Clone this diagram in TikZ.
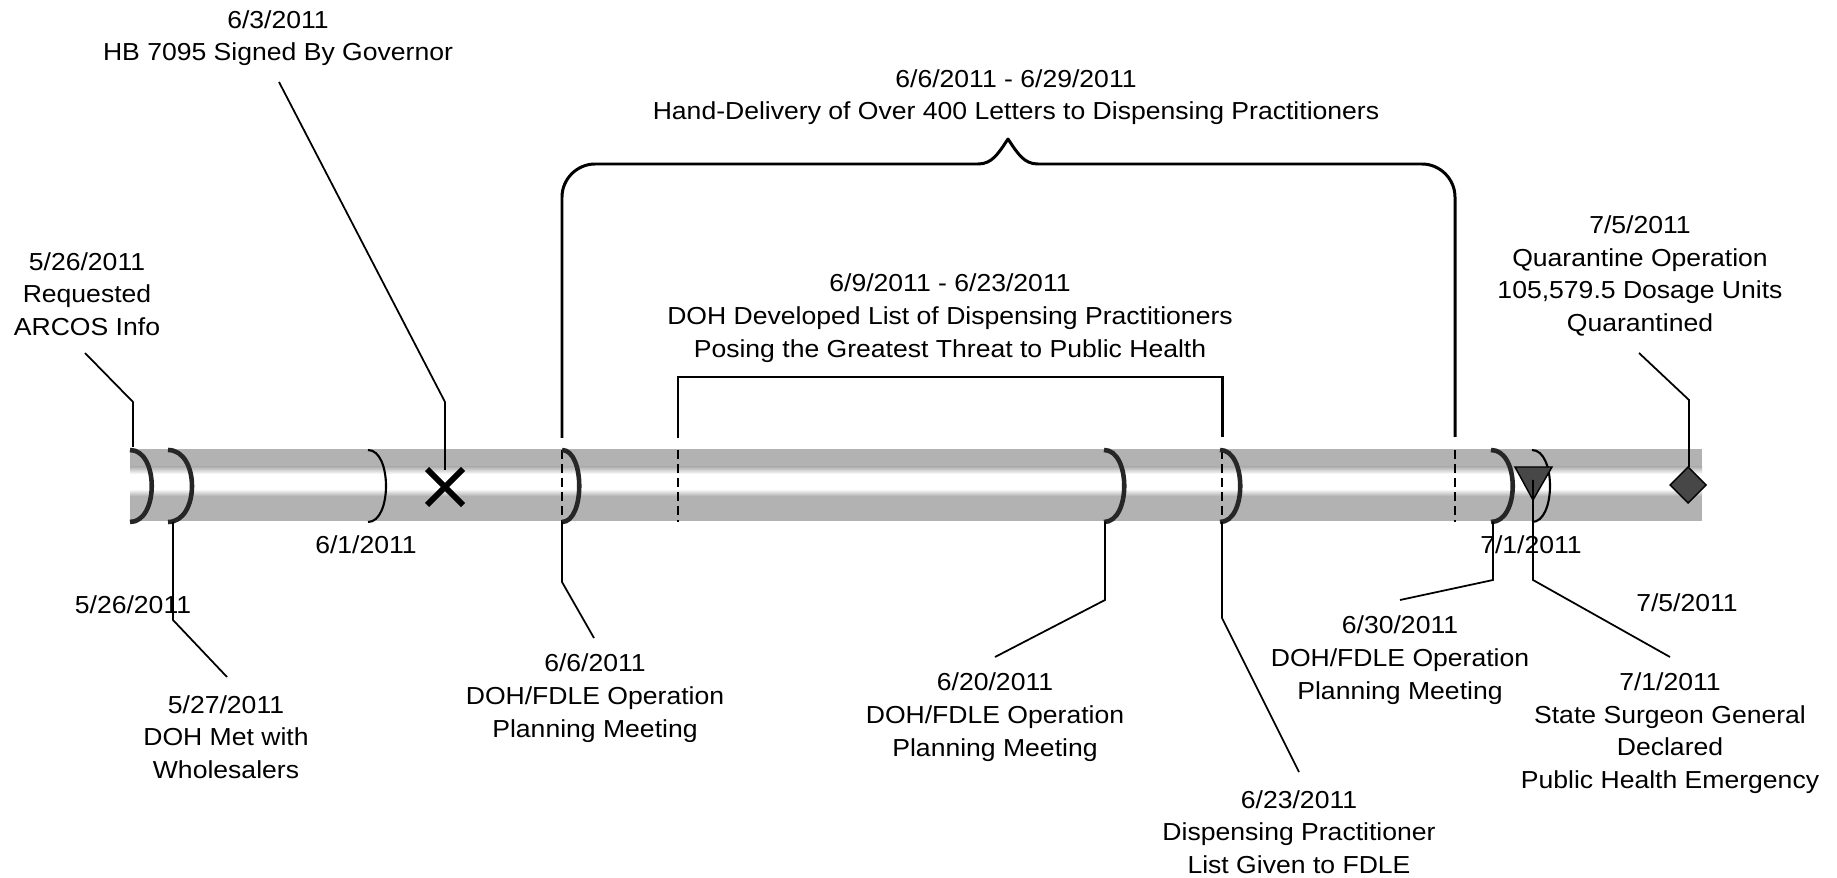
\documentclass[tikz,border=0pt]{standalone}
\usepackage{fontspec}
\setmainfont{Liberation Sans}[FakeStretch=1.08]
\definecolor{cylg}{gray}{0.70}
\tikzset{
  lbl/.style={align=center, inner sep=0pt, font=\fontsize{14}{18.6}\selectfont},
  call/.style={line width=1pt, black},
  thickarc/.style={line width=2.6pt, black!85},
  thinarc/.style={line width=1.2pt, black},
  brk/.style={line width=1.7pt, black, line join=round},
  dashmark/.style={line width=1.1pt, black, dash pattern=on 5pt off 3pt},
  markfill/.style={fill=black!72, draw=black, line width=0.8pt},
}
\begin{document}
\begin{tikzpicture}[x=0.02cm,y=-0.02cm]
\useasboundingbox (0,0) rectangle (1837,878);

% cylinder
\fill[cylg] (130,449) rectangle (1702,521);
\fill[white] (130,474) rectangle (1702,489);
\shade[top color=cylg,bottom color=white] (130,467) rectangle (1702,474);
\shade[top color=white,bottom color=cylg] (130,489) rectangle (1702,496);

% dashed cuts
\draw[dashmark] (562,450) -- (562,522);
\draw[dashmark] (678,450) -- (678,522);
\draw[dashmark] (1222,450) -- (1222,522);
\draw[dashmark] (1455,450) -- (1455,522);

% arcs
\draw[thickarc] (130,450) .. controls (159,450) and (159,522) .. (130,522);
\draw[thickarc] (168,450) .. controls (200,450) and (200,522) .. (168,522);
\draw[thinarc] (368,450) .. controls (392,450) and (392,522) .. (368,522);
\draw[thickarc] (562,450) .. controls (585,450) and (585,522) .. (562,522);
\draw[thickarc] (1104,450) .. controls (1131,450) and (1131,522) .. (1104,522);
\draw[thickarc] (1220,450) .. controls (1247,450) and (1247,522) .. (1220,522);
\draw[thickarc] (1491,450) .. controls (1520,450) and (1520,522) .. (1491,522);
\draw[thinarc] (1532,450) .. controls (1556,450) and (1556,522) .. (1532,522);

% marks
\draw[line width=3.4pt, line cap=butt] (427,469) -- (463,505) (427,505) -- (463,469);
\filldraw[markfill] (1515,467) -- (1552,467) -- (1533,500) -- cycle;
\filldraw[markfill] (1688,467) -- (1706,485) -- (1688,503) -- (1670,485) -- cycle;

% brackets
\draw[brk] (562,438) -- (562,197) .. controls (562,179) and (577,164) .. (595,164)
  -- (978,164) .. controls (992,164) and (998,154) .. (1008,139)
  .. controls (1018,154) and (1024,164) .. (1038,164)
  -- (1422,164) .. controls (1440,164) and (1455,179) .. (1455,197) -- (1455,437);
\draw[brk, line join=miter] (678,438) -- (678,377) -- (1222,377) -- (1222,437);

% labels
\node[lbl] (L603) at (278,38) {6/3/2011\\HB 7095 Signed By Governor};
\node[lbl] (Lhand) at (1016,97) {6/6/2011 - 6/29/2011\\Hand-Delivery of Over 400 Letters to Dispensing Practitioners};
\node[lbl] (L609) at (950,318) {6/9/2011 - 6/23/2011\\DOH Developed List of Dispensing Practitioners\\Posing the Greatest Threat to Public Health};
\node[lbl] (L526) at (87,294) {5/26/2011\\Requested\\ARCOS Info};
\node[lbl] (L705q) at (1640,276) {7/5/2011\\Quarantine Operation\\105,579.5 Dosage Units\\Quarantined};
\node[lbl] (L526b) at (133,605) {5/26/2011};
\node[lbl] (L601) at (366,545) {6/1/2011};
\node[lbl] (L527) at (226,737) {5/27/2011\\DOH Met with\\Wholesalers};
\node[lbl] (L606) at (595,698) {6/6/2011\\DOH/FDLE Operation\\Planning Meeting};
\node[lbl] (L620) at (995,717) {6/20/2011\\DOH/FDLE Operation\\Planning Meeting};
\node[lbl] (L623) at (1299,832) {6/23/2011\\Dispensing Practitioner\\List Given to FDLE};
\node[lbl] (L630) at (1400,660) {6/30/2011\\DOH/FDLE Operation\\Planning Meeting};
\node[lbl] (L701a) at (1531,545) {7/1/2011};
\node[lbl] (L705b) at (1687,603) {7/5/2011};
\node[lbl] (L701) at (1670,733) {7/1/2011\\State Surgeon General\\Declared\\Public Health Emergency};

% connector points
\coordinate (p526a) at (85,353);  \coordinate (p526b) at (133,402); \coordinate (p526c) at (133,447);
\coordinate (p603a) at (279,82);  \coordinate (p603b) at (445,402); \coordinate (p603c) at (445,470);
\coordinate (p527a) at (173,522); \coordinate (p527b) at (173,620); \coordinate (p527c) at (227,677);
\coordinate (p606a) at (562,522); \coordinate (p606b) at (562,582); \coordinate (p606c) at (594,638);
\coordinate (p620a) at (1105,522); \coordinate (p620b) at (1105,600); \coordinate (p620c) at (995,657);
\coordinate (p623a) at (1222,522); \coordinate (p623b) at (1222,618); \coordinate (p623c) at (1299,772);
\coordinate (p630a) at (1493,522); \coordinate (p630b) at (1493,580); \coordinate (p630c) at (1400,600);
\coordinate (p701a) at (1533,480); \coordinate (p701b) at (1533,580); \coordinate (p701c) at (1670,657);
\coordinate (p705a) at (1639,353); \coordinate (p705b) at (1689,400); \coordinate (p705c) at (1689,467);

\draw[call] (p526a) -- (p526b) -- (p526c);
\draw[call] (p603a) -- (p603b) -- (p603c);
\draw[call] (p527a) -- (p527b) -- (p527c);
\draw[call] (p606a) -- (p606b) -- (p606c);
\draw[call] (p620a) -- (p620b) -- (p620c);
\draw[call] (p623a) -- (p623b) -- (p623c);
\draw[call] (p630a) -- (p630b) -- (p630c);
\draw[call] (p701a) -- (p701b) -- (p701c);
\draw[call] (p705a) -- (p705b) -- (p705c);
\end{tikzpicture}
\end{document}
